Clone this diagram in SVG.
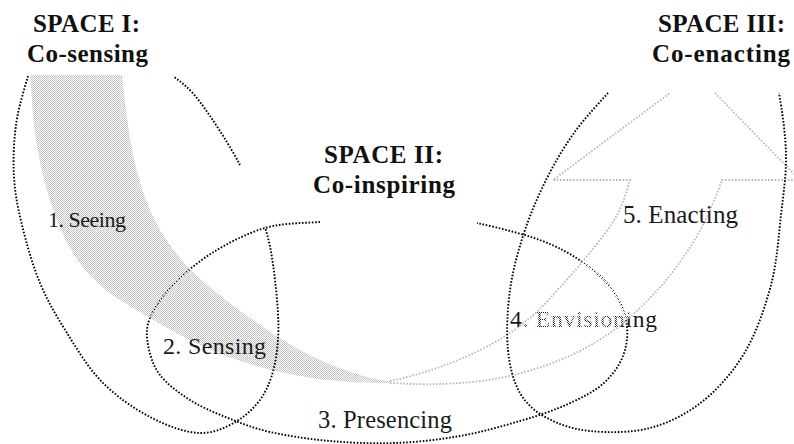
<svg xmlns="http://www.w3.org/2000/svg" width="794" height="444" viewBox="0 0 794 444">
<defs>
<style>
.dot{fill:none;stroke:#000;stroke-width:1.9;stroke-dasharray:1.6 1.7}
.gdot{fill:none;stroke:#b8b8b8;stroke-width:1.8;stroke-dasharray:1.6 1.7}
.title{font-family:"Liberation Serif","Times New Roman",serif;font-weight:bold;font-size:25px;fill:#111}
.step{font-family:"Liberation Serif","Times New Roman",serif;fill:#1a1a1a}
</style>
<pattern id="grayChk" width="2" height="2" patternUnits="userSpaceOnUse"><rect width="1" height="1" fill="#c2c2c2"/><rect x="1" y="1" width="1" height="1" fill="#c2c2c2"/></pattern>
<pattern id="whiteChk" width="2" height="2" patternUnits="userSpaceOnUse"><rect width="1" height="1" fill="#fff"/><rect x="1" y="1" width="1" height="1" fill="#fff"/></pattern>
</defs>
<rect width="794" height="444" fill="#fff"/>

<g id="space-2">
<path class="dot" d="M320,222 C301.7,223.3 283,222.8 265,228 C247,233.2 227.5,243.3 212,253 C196.5,262.7 182.3,275.2 172,286 C161.7,296.8 154,308.2 150,318 C146,327.8 146.3,335.5 148,345 C149.7,354.5 153,365.8 160,375 C167,384.2 178.7,392.8 190,400 C201.3,407.2 214.7,412.7 228,418 C241.3,423.3 253,428.2 270,432 C287,435.8 309.2,439.2 330,441 C350.8,442.8 373.3,443.8 395,443 C416.7,442.2 439.2,439.7 460,436 C480.8,432.3 502,426.3 520,421 C538,415.7 553.8,410.5 568,404 C582.2,397.5 595.5,391 605,382 C614.5,373 621.8,361.7 625,350 C628.2,338.3 628.2,324.3 624,312 C619.8,299.7 612.3,287.3 600,276 C587.7,264.7 570.5,252.8 550,244 C529.5,235.2 498.7,227.8 477,223"/>
<text class="title" x="324" y="163" textLength="119">SPACE II:</text>
<text class="title" x="313" y="193" textLength="142">Co-inspiring</text>
</g>

<g id="step-4">
<text class="step" x="510" y="327" font-size="23.5" textLength="147">4. Envisioning</text>
</g>

<g id="connectors">
<path fill="url(#grayChk)" d="M30,75 C31.7,95 32.7,119.2 36,140 C39.3,160.8 44.3,182 50,200 C55.7,218 61.7,233.8 70,248 C78.3,262.2 86.7,273.3 100,285 C113.3,296.7 133.3,308 150,318 C166.7,328 183.3,337.3 200,345 C216.7,352.7 233.3,358.8 250,364 C266.7,369.2 283.3,373 300,376 C316.7,379 335,380.8 350,382 C365,383.2 376.7,382.8 390,383 L390,381 C375.8,380.2 360,375.2 345,370 C330,364.8 315.3,358.3 300,350 C284.7,341.7 268.8,331.2 253,320 C237.2,308.8 218.5,295 205,283 C191.5,271 181.2,260.2 172,248 C162.8,235.8 156,223.3 150,210 C144,196.7 139.7,182.2 136,168 C132.3,153.8 130.3,140.5 128,125 C125.7,109.5 123.5,90.8 122,75 Z"/>
<path fill="url(#whiteChk)" d="M390,381 C405,378 423.3,373 440,367 C456.7,361 475,353.2 490,345 C505,336.8 518,328 530,318 C542,308 551.7,296.3 562,285 C572.3,273.7 582.8,261.7 592,250 C601.2,238.3 610.7,226.7 617,215 C623.3,203.3 626.7,190.8 630,180 L553,180 L670,93 L715,93 L794,174 L794,180 L722,180 C717.5,192.5 710,211.3 703,225 C696,238.7 688.8,249.8 680,262 C671.2,274.2 661.7,286.2 650,298 C638.3,309.8 625,322.7 610,333 C595,343.3 578.3,352.5 560,360 C541.7,367.5 520,374 500,378 C480,382 458.3,383.2 440,384 C421.7,384.8 406.7,383.7 390,383 Z"/>
<path class="gdot" d="M390,381 C405,378 423.3,373 440,367 C456.7,361 475,353.2 490,345 C505,336.8 518,328 530,318 C542,308 551.7,296.3 562,285 C572.3,273.7 582.8,261.7 592,250 C601.2,238.3 610.7,226.7 617,215 C623.3,203.3 626.7,190.8 630,180 L553,180 L670,93"/>
<path class="gdot" d="M390,383 C406.7,383.7 421.7,384.8 440,384 C458.3,383.2 480,382 500,378 C520,374 541.7,367.5 560,360 C578.3,352.5 595,343.3 610,333 C625,322.7 638.3,309.8 650,298 C661.7,286.2 671.2,274.2 680,262 C688.8,249.8 696,238.7 703,225 C710,211.3 717.5,192.5 722,180 L794,180"/>
<path class="gdot" d="M715,93 L794,174"/>
</g>

<g id="space-1">
<path class="dot" d="M28,76 C23.7,91 18.3,108.2 16,125 C13.7,141.8 13,160.3 14,177 C15,193.7 17.7,207.3 22,225 C26.3,242.7 32.5,265 40,283 C47.5,301 56.7,316.5 67,333 C77.3,349.5 88.2,368 102,382 C115.8,396 133.7,408.5 150,417 C166.3,425.5 185,432.7 200,433 C215,433.3 228.8,426.5 240,419 C251.2,411.5 260.7,401.2 267,388 C273.3,374.8 276.7,358 278,340 C279.3,322 277.2,298.8 275,280 C272.8,261.2 270.8,246.2 265,227"/>
<path class="dot" d="M240,165 C229.2,144.2 211.2,116.8 200,102 C188.8,87.2 183,83.8 173,76"/>
<text class="title" x="33" y="32" textLength="107">SPACE I:</text>
<text class="title" x="27" y="62" textLength="121">Co-sensing</text>
</g>

<g id="space-3">
<path class="dot" d="M608,93 C597,105.2 584.3,118.5 574,133 C563.7,147.5 554.3,163.3 546,180 C537.7,196.7 530,214.7 524,233 C518,251.3 512.7,270.5 510,290 C507.3,309.5 506.3,332.8 508,350 C509.7,367.2 513.5,381.7 520,393 C526.5,404.3 535.3,411.7 547,418 C558.7,424.3 572.8,429.3 590,431 C607.2,432.7 631.2,433 650,428 C668.8,423 687.2,413.7 703,401 C718.8,388.3 733.7,371.3 745,352 C756.3,332.7 765,307.8 771,285 C777,262.2 778.5,236.7 781,215 C783.5,193.3 786.3,175.3 786,155 C785.7,134.7 782,110.5 779,93"/>
<text class="title" x="658" y="32" textLength="127">SPACE III:</text>
<text class="title" x="652" y="62" textLength="138">Co-enacting</text>
</g>

<g id="step-1"><text class="step" x="48" y="227" font-size="22" textLength="78">1. Seeing</text></g>
<g id="step-2"><text class="step" x="163" y="354" font-size="24" textLength="103">2. Sensing</text></g>
<g id="step-3"><text class="step" x="318" y="428" font-size="24.5" textLength="134">3. Presencing</text></g>
<g id="step-5"><text class="step" x="623" y="223" font-size="25" textLength="115">5. Enacting</text></g>
</svg>
